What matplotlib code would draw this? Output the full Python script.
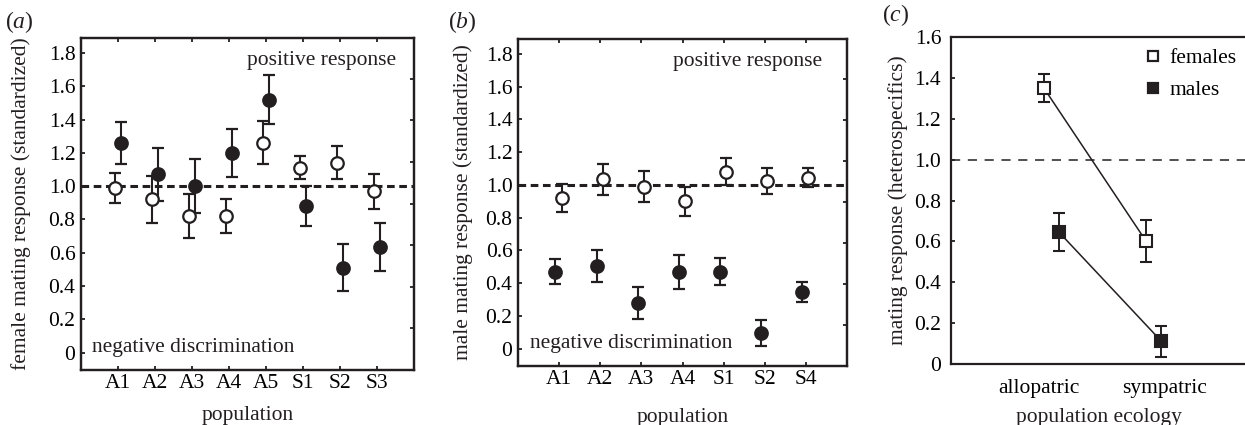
# Respuesta de apareamiento: hembras (a), machos (b) y ecología de la población (c)
import numpy as np
import matplotlib.pyplot as plt
from matplotlib.lines import Line2D

plt.rcParams['font.family'] = ['Liberation Serif', 'DejaVu Serif']
plt.rcParams['mathtext.fontset'] = 'custom'
plt.rcParams['mathtext.rm'] = 'Liberation Serif'
plt.rcParams['mathtext.it'] = 'Liberation Serif:italic'
plt.rcParams['font.size'] = 15.5

INK = '#231f20'

# datos panel (a)
pops_a = ['A1', 'A2', 'A3', 'A4', 'A5', 'S1', 'S2', 'S3']
fem_open = [0.99, 0.92, 0.82, 0.82, 1.26, 1.11, 1.14, 0.97]
fem_open_err = [0.09, 0.14, 0.13, 0.10, 0.13, 0.07, 0.10, 0.105]
fem_fill = [1.26, 1.07, 1.00, 1.20, 1.52, 0.88, 0.51, 0.635]
fem_fill_err = [0.125, 0.16, 0.16, 0.145, 0.145, 0.12, 0.14, 0.145]

# datos panel (b)
pops_b = ['A1', 'A2', 'A3', 'A4', 'S1', 'S2', 'S4']
male_open = [0.92, 1.035, 0.99, 0.90, 1.08, 1.025, 1.045]
male_open_err = [0.085, 0.095, 0.095, 0.09, 0.083, 0.078, 0.056]
male_fill = [0.47, 0.505, 0.28, 0.47, 0.47, 0.095, 0.345]
male_fill_err = [0.075, 0.095, 0.097, 0.105, 0.083, 0.08, 0.062]

# datos panel (c)
ecology = ['allopatric', 'sympatric']
females = [1.35, 0.60]
females_err = [0.07, 0.103]
males = [0.645, 0.112]
males_err = [0.093, 0.076]

# ticks derechos (escala secundaria sin etiquetas)
right_ticks = [0.145, 0.395, 0.645, 0.895, 1.145, 1.395, 1.645]

fig = plt.figure(figsize=(12.45, 4.25), dpi=100)
W, H = 1245, 425


def make_ax(l, t, r, b):
    return fig.add_axes([l / W, 1 - b / H, (r - l) / W, (b - t) / H])


def style_box(ax):
    for s in ax.spines.values():
        s.set_linewidth(1.6)
        s.set_color(INK)
    ax.tick_params(direction='in', length=3, width=1.3, color=INK,
                   top=True, bottom=True, left=True, right=False)
    ax.tick_params(axis='x', pad=3)
    ax.tick_params(axis='y', pad=4)


def points(ax, x, y, e, face, ms=9):
    ax.errorbar(x, y, yerr=e, fmt='o', ms=ms, mfc=face, mec=INK, mew=1.6,
                ecolor=INK, elinewidth=1.5, capsize=4, capthick=1.5,
                color=INK, zorder=3)


def ratio_panel(ax, pops, open_v, open_e, fill_v, fill_e, off_open, off_fill,
                ylabel, pos_x, neg_x):
    x = np.arange(1, len(pops) + 1)
    ax.axhline(1.0, color=INK, lw=2.2, ls=(0, (2.5, 1.5)), zorder=1)
    points(ax, x + off_fill, fill_v, fill_e, INK)
    points(ax, x + off_open, open_v, open_e, 'white')
    ax.set_xlim(0, len(pops) + 1)
    ax.set_ylim(-0.105, 1.89)
    ax.set_xticks(x)
    ax.set_xticklabels(pops)
    ax.set_yticks(np.arange(0, 1.81, 0.2))
    ax.set_yticklabels(['0'] + [f'{v:.1f}' for v in np.arange(0.2, 1.81, 0.2)])
    style_box(ax)
    tw = ax.twinx()
    tw.set_ylim(ax.get_ylim())
    tw.set_yticks(right_ticks)
    tw.set_yticklabels([])
    tw.tick_params(direction='in', length=3, width=1.3, color=INK)
    for s in tw.spines.values():
        s.set_linewidth(1.6)
        s.set_color(INK)
    ax.text(pos_x, 1.755, 'positive response', ha='right', va='center', color=INK)
    ax.text(neg_x, 0.03, 'negative discrimination', ha='left', va='center', color=INK)
    ax.set_xlabel('population', color=INK)
    ax.set_ylabel(ylabel, color=INK)


# (a)
ax1 = make_ax(81, 38, 414, 370)
ratio_panel(ax1, pops_a, fem_open, fem_open_err, fem_fill, fem_fill_err,
            -0.08, 0.07, 'female mating response (standardized)', 8.53, 0.31)
ax1.xaxis.set_label_coords(0.5, -0.108)
ax1.yaxis.set_label_coords(-0.15, 0.5)

# (b)
ax2 = make_ax(518, 39, 847, 366)
ratio_panel(ax2, pops_b, male_open, male_open_err, male_fill, male_fill_err,
            0.06, -0.09, 'male mating response (standardized)', 7.39, 0.29)
ax2.xaxis.set_label_coords(0.5, -0.128)
ax2.yaxis.set_label_coords(-0.137, 0.5)

# (c)
ax3 = make_ax(951, 37, 1246, 364)
xg = np.array([1.1, 1.915])
ax3.axhline(1.0, color=INK, lw=1.1, ls=(0, (6, 5)), zorder=1)
ax3.plot(xg - 0.06, females, color=INK, lw=1.1, zorder=2)
ax3.plot(xg + 0.06, males, color=INK, lw=1.1, zorder=2)
ax3.errorbar(xg - 0.06, females, yerr=females_err, fmt='s', ms=9, mfc='white',
             mec=INK, mew=1.5, ecolor=INK, elinewidth=1.4, capsize=4,
             capthick=1.4, zorder=3)
ax3.errorbar(xg + 0.06, males, yerr=males_err, fmt='s', ms=9, mfc=INK,
             mec=INK, mew=1.5, ecolor=INK, elinewidth=1.4, capsize=4,
             capthick=1.4, zorder=3)
ax3.set_xlim(0.3, 2.65)
ax3.set_ylim(0, 1.6)
ax3.set_xticks([1, 2])
ax3.set_xticklabels(ecology)
ax3.set_yticks(np.arange(0, 1.61, 0.2))
ax3.set_yticklabels(['0'] + [f'{v:.1f}' for v in np.arange(0.2, 1.61, 0.2)])
for s in ax3.spines.values():
    s.set_linewidth(1.6)
    s.set_color(INK)
ax3.spines['right'].set_visible(False)
ax3.tick_params(axis='y', direction='in', length=3, width=1.3, color=INK, pad=7)
ax3.tick_params(axis='x', length=0, pad=11)
ax3.set_xlabel('population ecology', color=INK)
ax3.set_ylabel('mating response (heterospecifics)', color=INK)
ax3.xaxis.set_label_coords(0.5, -0.135)
ax3.yaxis.set_label_coords(-0.146, 0.5)
handles = [Line2D([], [], ls='none', marker='s', ms=7, mfc='white', mec=INK, mew=1.6),
           Line2D([], [], ls='none', marker='s', ms=7, mfc=INK, mec=INK, mew=1.6)]
ax3.legend(handles, ['females', 'males'], loc='upper left', bbox_to_anchor=(0.595, 1.025),
           frameon=False, handlelength=0.7, handletextpad=0.4, labelspacing=0.55)

# etiquetas de panel
fig.text(5 / W, 1 - 22 / H, r'($\mathit{a}$)', ha='left', va='center', color=INK, fontsize=17)
fig.text(448 / W, 1 - 22 / H, r'($\mathit{b}$)', ha='left', va='center', color=INK, fontsize=17)
fig.text(882 / W, 1 - 15 / H, r'($\mathit{c}$)', ha='left', va='center', color=INK, fontsize=17)

fig.savefig('out.png', dpi=100)
